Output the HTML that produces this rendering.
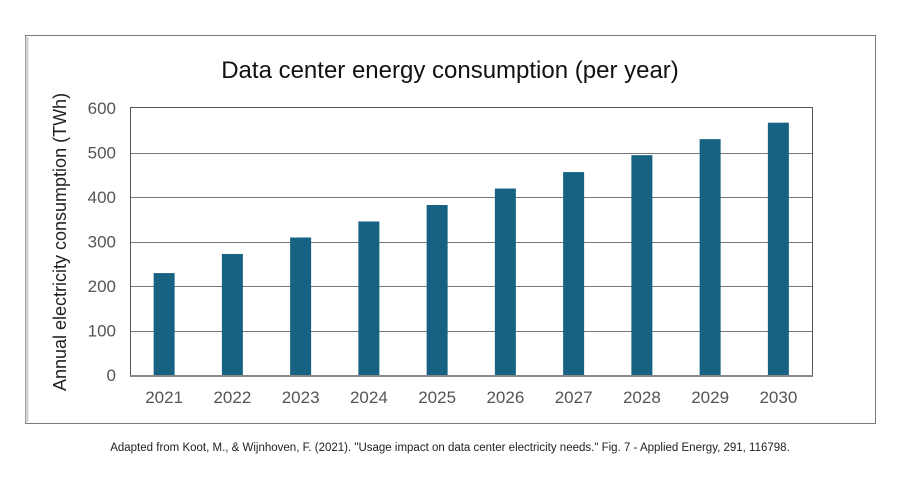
<!DOCTYPE html>
<html><head><meta charset="utf-8"><style>
html,body{margin:0;padding:0;background:#fff;width:900px;height:480px;overflow:hidden}
svg{display:block}
</style></head><body>
<svg width="900" height="480" xmlns="http://www.w3.org/2000/svg">
<rect x="25.5" y="35.5" width="850" height="388" fill="#fff" stroke="#7a7a7a"/>
<line x1="27" y1="37" x2="27" y2="422" stroke="#d0d0d0" stroke-width="3"/>
<text x="450" y="78" text-anchor="middle" font-family="Liberation Sans, sans-serif" font-size="24" fill="#111">Data center energy consumption (per year)</text>
<g id="grid"></g>
<g id="yticks"></g>
<g id="bars"></g>
<g id="xticks"></g>
<rect x="130.5" y="107.5" width="682" height="268" fill="none" stroke="#555"/>
<line x1="130" y1="376" x2="813" y2="376" stroke="#888" stroke-width="2"/>
<text transform="translate(66,242) rotate(-90)" text-anchor="middle" font-family="Liberation Sans, sans-serif" font-size="18" fill="#222">Annual electricity consumption (TWh)</text>
<text x="450" y="451" text-anchor="middle" font-family="Liberation Sans, sans-serif" font-size="11.5" fill="#222">Adapted from Koot, M., &amp; Wijnhoven, F. (2021). "Usage impact on data center electricity needs." Fig. 7 - Applied Energy, 291, 116798.</text>
</svg>
<script>
const categories=["2021","2022","2023","2024","2025","2026","2027","2028","2029","2030"];
const values=[229,272,309,345,382,419,456,494,530,567];
const yTicks=[0,100,200,300,400,500,600];
const NS="http://www.w3.org/2000/svg";
const L=130,R=812.5,T=108,B=375,YMAX=600;
const y=v=>B-(v/YMAX)*(B-T);
const bw=(R-L)/categories.length;
const xc=i=>L+bw*(i+0.5);
function mk(t,a){const e=document.createElementNS(NS,t);for(const k in a)e.setAttribute(k,a[k]);return e;}
const grid=document.getElementById('grid'),yt=document.getElementById('yticks'),bars=document.getElementById('bars'),xt=document.getElementById('xticks');
yTicks.forEach(v=>{
  if(v>0&&v<YMAX){const ln=mk('line',{x1:L,x2:R,y1:Math.round(y(v))+0.5,y2:Math.round(y(v))+0.5,stroke:'#777','stroke-width':1});
  
  
  grid.appendChild(ln);}
  const t=mk('text',{x:116,y:y(v)+6,'text-anchor':'end','font-family':'Liberation Sans, sans-serif','font-size':17,fill:'#555'});
  t.textContent=v;
  
  
  yt.appendChild(t);
});
categories.forEach((c,i)=>{
  const r=mk('rect',{x:xc(i)-10.5,y:y(values[i]),width:21,height:B-y(values[i]),fill:'#176283'});
  
  
  bars.appendChild(r);
  const t=mk('text',{x:xc(i),y:403,'text-anchor':'middle','font-family':'Liberation Sans, sans-serif','font-size':17,fill:'#555'});
  t.textContent=c;
  
  
  xt.appendChild(t);
});
</script>
</body></html>
